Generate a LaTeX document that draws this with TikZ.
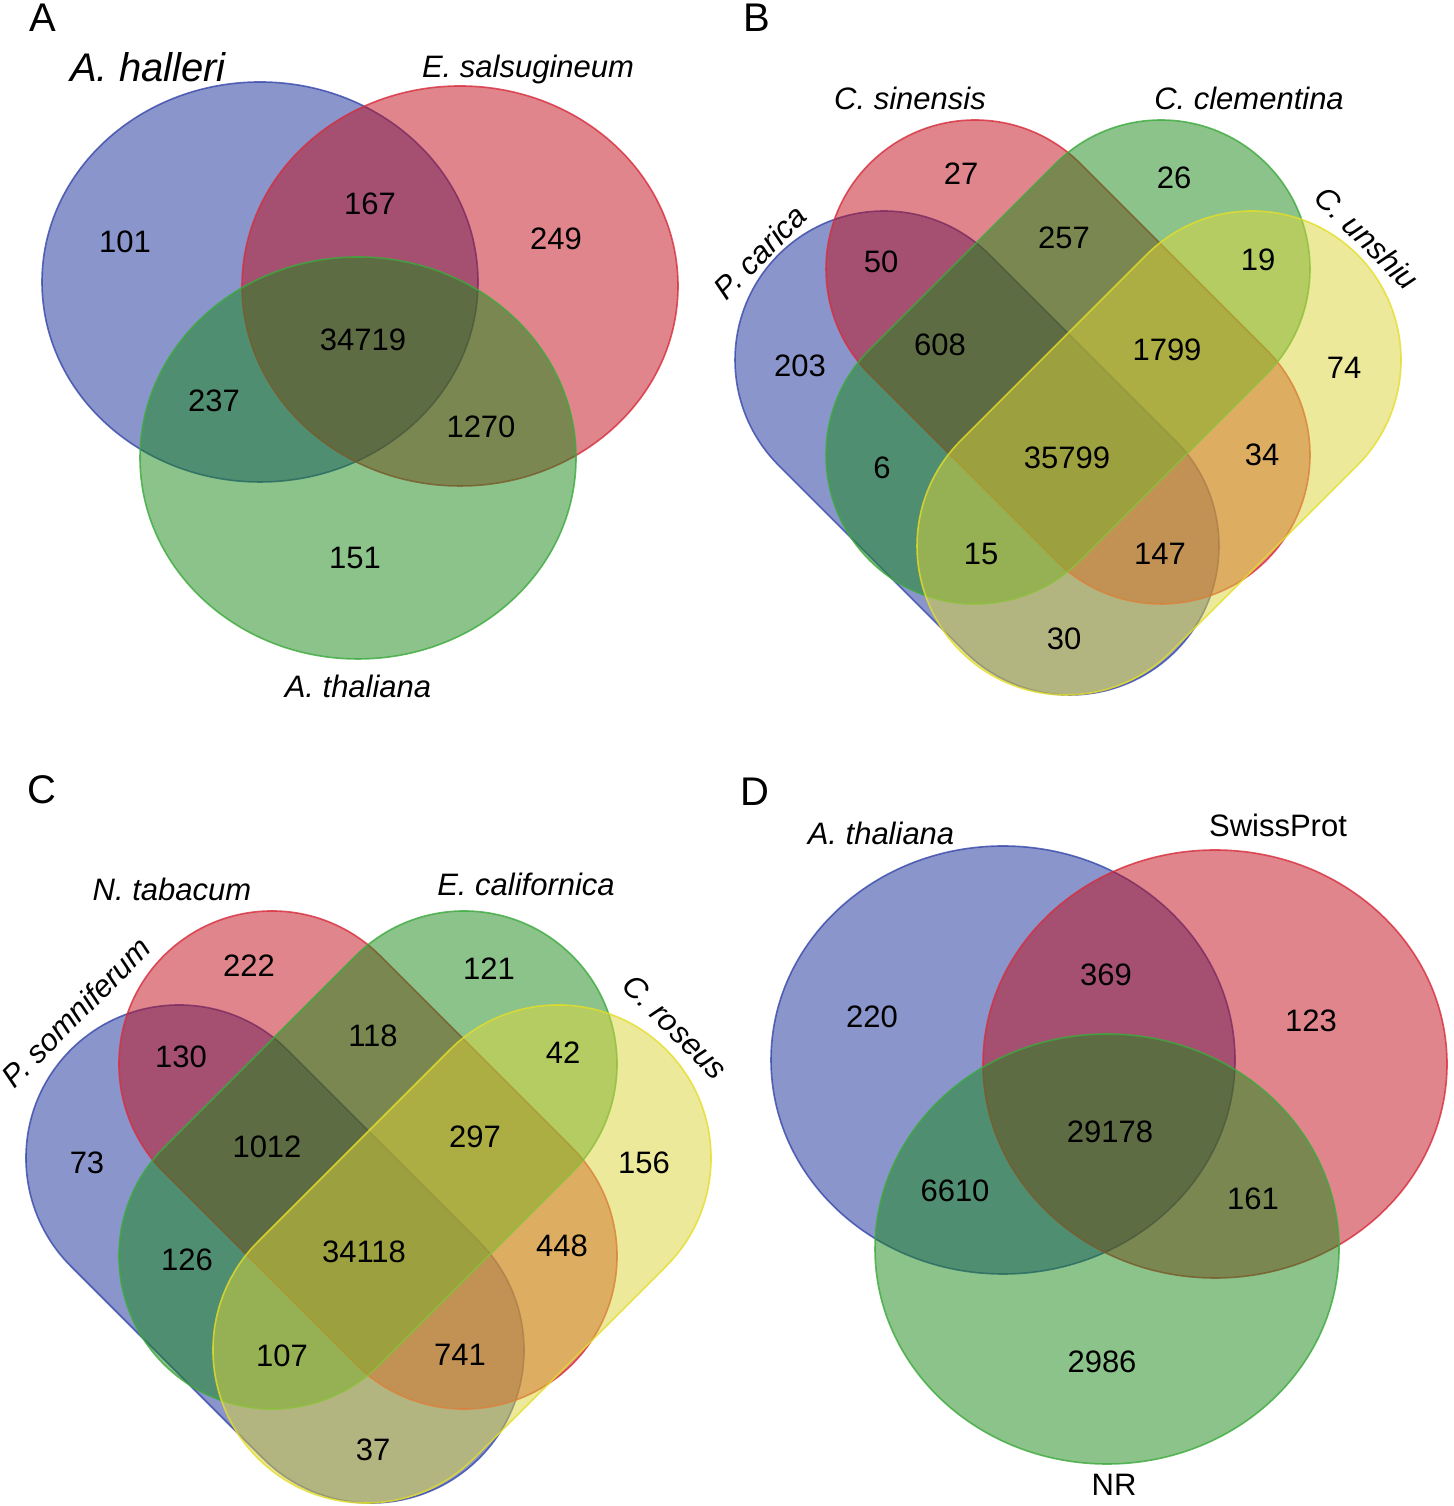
\documentclass[tikz,border=0pt]{standalone}
\usepackage{fontspec}
\setmainfont{Liberation Sans}
\definecolor{vblue}{RGB}{21,45,153}
\definecolor{vred}{RGB}{193,13,25}
\definecolor{vgreen}{RGB}{25,137,25}
\definecolor{vyellow}{RGB}{221,213,57}
\definecolor{vblueL}{RGB}{55,72,170}
\definecolor{vredL}{RGB}{215,45,60}
\definecolor{vgreenL}{RGB}{60,170,60}
\definecolor{vyellowL}{RGB}{228,222,40}
\newcommand{\vstadium}[6]{%
  \begin{scope}[shift={(#1,#2)},rotate=#3]
    \path[#6] (-#4,-#5) -- (#4,-#5) arc[start angle=-90,end angle=90,radius=#5]
      -- (-#4,#5) arc[start angle=90,end angle=270,radius=#5] -- cycle;
  \end{scope}}
\begin{document}
\begin{tikzpicture}[x=1pt,y=1pt,
  vset/.style={fill opacity=0.5, draw opacity=0.8, line width=1.6pt},
  sblue/.style={vset, fill=vblue, draw=vblueL},
  sred/.style={vset, fill=vred, draw=vredL},
  sgreen/.style={vset, fill=vgreen, draw=vgreenL},
  syellow/.style={vset, fill=vyellow, draw=vyellowL},
  num/.style={inner sep=0pt, font=\fontsize{31}{36}\selectfont},
  lab/.style={inner sep=0pt, font=\fontsize{31}{36}\selectfont\itshape},
  biglab/.style={inner sep=0pt, font=\fontsize{40}{46}\selectfont\itshape},
  plab/.style={inner sep=0pt, font=\fontsize{31}{36}\selectfont},
  panel/.style={inner sep=0pt, font=\fontsize{40}{46}\selectfont}]
\fill[white] (0,0) rectangle (1453,1506);
\useasboundingbox (0,0) rectangle (1453,1506);

% ---------------- Panel A ----------------
\path[sblue] (260,1224) ellipse[x radius=218, y radius=200];
\path[sred] (460,1220) ellipse[x radius=218, y radius=200];
\path[sgreen] (358,1048) ellipse[x radius=218, y radius=201];
\node[panel] (pA) at (43,1488) {A};
\node[biglab] (lA1) at (148,1439) {A. halleri};
\node[lab] (lA2) at (528,1436) {E. salsugineum};
\node[lab] (lA3) at (358,820) {A. thaliana};
\node[num] (a101) at (125,1264) {101};
\node[num] (a167) at (370,1302) {167};
\node[num] (a249) at (556,1267) {249};
\node[num] (a34719) at (363,1166) {34719};
\node[num] (a237) at (214,1105) {237};
\node[num] (a1270) at (481,1079) {1270};
\node[num] (a151) at (355,948) {151};

% ---------------- Panel B ----------------
\vstadium{977}{1053}{-45}{131.5}{149}{sblue}
\vstadium{1068}{1144}{-45}{131.5}{149}{sred}
\vstadium{1068}{1144}{45}{131.5}{149}{sgreen}
\vstadium{1159}{1053}{45}{131.5}{149}{syellow}
\node[panel] (pB) at (757,1488) {B};
\node[lab] (lB1) at (910,1408) {C. sinensis};
\node[lab] (lB2) at (1249,1408) {C. clementina};
\node[lab, rotate=45] (lB3) at (760,1254) {P. carica};
\node[lab, rotate=-45] (lB4) at (1367,1268) {C. unshiu};
\node[num] (b27) at (961,1332) {27};
\node[num] (b26) at (1174,1328) {26};
\node[num] (b50) at (881,1244) {50};
\node[num] (b257) at (1064,1268) {257};
\node[num] (b19) at (1258,1246) {19};
\node[num] (b203) at (800,1140) {203};
\node[num] (b608) at (940,1161) {608};
\node[num] (b1799) at (1167,1156) {1799};
\node[num] (b74) at (1344,1138) {74};
\node[num] (b6) at (882,1038) {6};
\node[num] (b35799) at (1067,1048) {35799};
\node[num] (b34) at (1262,1051) {34};
\node[num] (b15) at (981,952) {15};
\node[num] (b147) at (1160,952) {147};
\node[num] (b30) at (1064,867) {30};

% ---------------- Panel C ----------------
\vstadium{275}{252}{-45}{135.8}{153}{sblue}
\vstadium{368}{346}{-45}{135.8}{153}{sred}
\vstadium{368}{346}{45}{135.8}{153}{sgreen}
\vstadium{462}{252}{45}{135.8}{153}{syellow}
\node[panel] (pC) at (42,716) {C};
\node[lab] (lC1) at (172,617) {N. tabacum};
\node[lab] (lC2) at (526,622) {E. californica};
\node[lab, rotate=45] (lC3) at (76,494) {P. somniferum};
\node[lab, rotate=-45] (lC4) at (675,479) {C. roseus};
\node[num] (c222) at (249,540) {222};
\node[num] (c121) at (489,537) {121};
\node[num] (c130) at (181,449) {130};
\node[num] (c118) at (373,470) {118};
\node[num] (c42) at (563,453) {42};
\node[num] (c73) at (87,343) {73};
\node[num] (c1012) at (267,359) {1012};
\node[num] (c297) at (475,369) {297};
\node[num] (c156) at (644,343) {156};
\node[num] (c126) at (187,246) {126};
\node[num] (c34118) at (364,254) {34118};
\node[num] (c448) at (562,260) {448};
\node[num] (c107) at (282,150) {107};
\node[num] (c741) at (460,151) {741};
\node[num] (c37) at (373,56) {37};

% ---------------- Panel D ----------------
\path[sblue] (1003,446) ellipse[x radius=232, y radius=214];
\path[sred] (1215,442) ellipse[x radius=232, y radius=214];
\path[sgreen] (1107,257) ellipse[x radius=232, y radius=215];
\node[panel] (pD) at (755,714) {D};
\node[lab] (lD1) at (881,673) {A. thaliana};
\node[plab] (lD2) at (1278,681) {SwissProt};
\node[plab] (lD3) at (1114,21) {NR};
\node[num] (d220) at (872,489) {220};
\node[num] (d369) at (1106,531) {369};
\node[num] (d123) at (1311,485) {123};
\node[num] (d29178) at (1110,374) {29178};
\node[num] (d6610) at (955,315) {6610};
\node[num] (d161) at (1253,307) {161};
\node[num] (d2986) at (1102,144) {2986};
\end{tikzpicture}
\end{document}
